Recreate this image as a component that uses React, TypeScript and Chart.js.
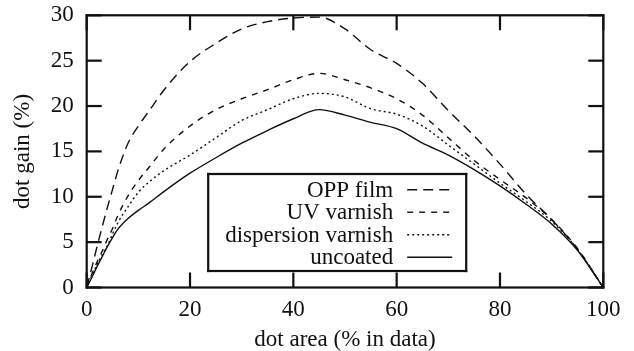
import React, { useEffect, useRef } from "react";
import { Chart, registerables } from "chart.js";

Chart.register(...registerables);

const dotArea = [0, 1, 2, 3, 4, 5, 6, 8, 10, 12, 15, 20, 25, 30, 35, 40, 45, 50, 55, 60, 65, 70, 75, 80, 85, 90, 95, 100];
const oppFilm = [0, 2.2, 4.5, 6.7, 8.8, 10.8, 12.8, 15.9, 17.8, 19.4, 21.8, 24.9, 26.9, 28.5, 29.3, 29.7, 29.8, 28.5, 26.2, 24.7, 22.5, 19.5, 16.7, 13.6, 10.3, 7.5, 4.2, 0];
const uvVarnish = [0, 1.5, 2.8, 4.0, 5.3, 6.5, 7.9, 10.1, 11.8, 13.2, 15.3, 17.8, 19.6, 20.8, 21.8, 22.9, 23.6, 22.9, 22.0, 20.8, 19.0, 16.5, 14.0, 11.9, 9.9, 7.5, 4.3, 0];
const dispersionVarnish = [0, 1.3, 2.5, 3.6, 4.6, 5.9, 7.1, 8.9, 10.5, 11.6, 12.9, 14.6, 16.5, 18.4, 19.6, 20.8, 21.4, 21.0, 19.7, 19.1, 17.8, 15.7, 13.6, 11.5, 9.5, 7.3, 4.2, 0];
const uncoated = [0, 1.1, 2.3, 3.4, 4.5, 5.5, 6.4, 7.6, 8.5, 9.3, 10.6, 12.6, 14.3, 15.9, 17.3, 18.6, 19.6, 19.0, 18.2, 17.5, 15.9, 14.6, 13.0, 11.2, 9.2, 7.0, 4.1, 0];

const seriesLabels = ["OPP film", "UV varnish", "dispersion varnish", "uncoated"];
const seriesValues = [oppFilm, uvVarnish, dispersionVarnish, uncoated];
const seriesDash = [[10, 6], [6, 6], [2, 3], []];

const xTitle = "dot area (% in data)";
const yTitle = "dot gain (%)";

const FONT = "'Liberation Serif', 'Times New Roman', serif";
const FS = 23;
const INK = "#111111";

const framePlugin = {
  id: "gnuFrame",
  afterDraw(chart: any) {
    const ctx = chart.ctx;
    const a = chart.chartArea;
    const x = chart.scales.x;
    const y = chart.scales.y;
    ctx.save();
    ctx.setLineDash([]);
    ctx.fillStyle = INK;
    const T = 2.2;
    const L = 15;
    // frame
    ctx.fillRect(a.left - T / 2, a.top - T / 2, a.right - a.left + T, T);
    ctx.fillRect(a.left - T / 2, a.bottom - T / 2, a.right - a.left + T, T);
    ctx.fillRect(a.left - T / 2, a.top - T / 2, T, a.bottom - a.top + T);
    ctx.fillRect(a.right - T / 2, a.top - T / 2, T, a.bottom - a.top + T);
    // inward ticks on all four sides
    for (const t of x.ticks) {
      const px = x.getPixelForValue(t.value);
      ctx.fillRect(px - T / 2, a.bottom - L, T, L);
      ctx.fillRect(px - T / 2, a.top, T, L);
    }
    for (const t of y.ticks) {
      const py = y.getPixelForValue(t.value);
      ctx.fillRect(a.left, py - T / 2, L, T);
      ctx.fillRect(a.right - L, py - T / 2, L, T);
    }

    // legend box
    const bl = a.left + 121.5;
    const br = a.left + 379.5;
    const bt = a.top + 158.7;
    const bb = a.top + 255.7;
    ctx.fillStyle = "#ffffff";
    ctx.fillRect(bl, bt, br - bl, bb - bt);
    ctx.fillStyle = INK;
    ctx.fillRect(bl - T / 2, bt - T / 2, br - bl + T, T);
    ctx.fillRect(bl - T / 2, bb - T / 2, br - bl + T, T);
    ctx.fillRect(bl - T / 2, bt - T / 2, T, bb - bt + T);
    ctx.fillRect(br - T / 2, bt - T / 2, T, bb - bt + T);
    ctx.font = `${FS}px ${FONT}`;
    ctx.textAlign = "right";
    ctx.textBaseline = "alphabetic";
    chart.data.datasets.forEach((ds: any, i: number) => {
      const base = bt + 22.7 + i * 22.5;
      ctx.fillText(ds.label, bl + 185, base);
      ctx.save();
      ctx.strokeStyle = INK;
      ctx.lineWidth = 1.4;
      ctx.setLineDash(ds.borderDash || []);
      ctx.beginPath();
      ctx.moveTo(bl + 199, base - 7);
      ctx.lineTo(bl + 244, base - 7);
      ctx.stroke();
      ctx.restore();
    });
    ctx.restore();
  },
};

export default function App() {
  const ref = useRef<HTMLCanvasElement>(null);
  useEffect(() => {
    if (!ref.current) return;
    const chart = new Chart(ref.current, {
      type: "line",
      data: {
        datasets: seriesLabels.map((label, i) => ({
          label,
          data: dotArea.map((x, j) => ({ x, y: seriesValues[i][j] })),
          borderColor: INK,
          borderWidth: 1.4,
          borderDash: seriesDash[i],
          pointRadius: 0,
          fill: false,
          cubicInterpolationMode: "monotone" as const,
        })),
      },
      options: {
        responsive: false,
        animation: false,
        devicePixelRatio: 1,
        layout: { padding: { left: 0, top: 15.3, right: 30.7, bottom: 0 } },
        plugins: { legend: { display: false }, tooltip: { enabled: false } },
        scales: {
          x: {
            type: "linear",
            min: 0,
            max: 100,
            ticks: { stepSize: 20, color: INK, padding: 9, font: { family: FONT, size: FS } },
            grid: { display: false, drawTicks: false },
            border: { display: false },
            title: { display: true, text: xTitle, color: INK, font: { family: FONT, size: FS, lineHeight: 1 }, padding: { top: 0, bottom: 0 } },
            afterFit: (s: any) => {
              s.height = 63.5;
              s.paddingLeft = 0;
              s.paddingRight = 0;
            },
          },
          y: {
            type: "linear",
            min: 0,
            max: 30,
            ticks: { stepSize: 5, color: INK, padding: 13, font: { family: FONT, size: FS } },
            grid: { display: false, drawTicks: false },
            border: { display: false },
            title: { display: true, text: yTitle, color: INK, font: { family: FONT, size: FS, lineHeight: 1 }, padding: { top: 11, bottom: 0 } },
            afterFit: (s: any) => {
              s.width = 86.7;
              s.paddingTop = 0;
              s.paddingBottom = 0;
            },
          },
        },
      },
      plugins: [framePlugin],
    });
    return () => chart.destroy();
  }, []);
  return (
    <div style={{ position: "absolute", left: 0, top: 0, width: 634, height: 351, background: "#fff" }}>
      <canvas ref={ref} width={634} height={351} />
    </div>
  );
}
